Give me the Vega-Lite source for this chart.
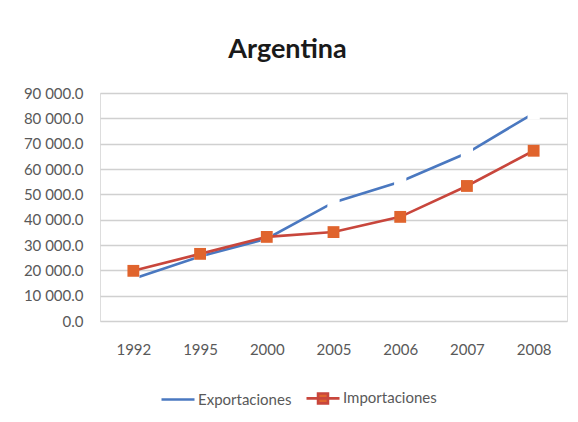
{
  "$schema": "https://vega.github.io/schema/vega-lite/v6.json",
  "width": 467,
  "height": 228,
  "autosize": {"type": "none"},
  "padding": {"left": 100, "top": 93, "right": 11, "bottom": 101},
  "background": "white",
  "title": {
    "text": "Argentina",
    "font": "Lato",
    "fontSize": 27,
    "fontWeight": "bold",
    "color": "#1a1a1a",
    "anchor": "middle",
    "dx": -46,
    "baseline": "alphabetic",
    "offset": 1
  },
  "data": {
    "values": [
      {"anio": "1992", "serie": "Exportaciones", "valor": 16700},
      {"anio": "1995", "serie": "Exportaciones", "valor": 25500},
      {"anio": "2000", "serie": "Exportaciones", "valor": 32500},
      {"anio": "2005", "serie": "Exportaciones", "valor": 46800},
      {"anio": "2006", "serie": "Exportaciones", "valor": 55000},
      {"anio": "2007", "serie": "Exportaciones", "valor": 66300},
      {"anio": "2008", "serie": "Exportaciones", "valor": 82000},
      {"anio": "1992", "serie": "Importaciones", "valor": 19800},
      {"anio": "1995", "serie": "Importaciones", "valor": 26500},
      {"anio": "2000", "serie": "Importaciones", "valor": 33200},
      {"anio": "2005", "serie": "Importaciones", "valor": 35100},
      {"anio": "2006", "serie": "Importaciones", "valor": 41100},
      {"anio": "2007", "serie": "Importaciones", "valor": 53300},
      {"anio": "2008", "serie": "Importaciones", "valor": 67200}
    ]
  },
  "encoding": {
    "x": {
      "field": "anio",
      "type": "ordinal",
      "sort": null,
      "scale": {"type": "point", "padding": 0.5},
      "axis": {
        "title": null,
        "labelAngle": 0,
        "domain": false,
        "ticks": false,
        "labelFont": "Lato",
        "labelFontSize": 15,
        "labelColor": "#595959",
        "labelPadding": 21
      }
    },
    "y": {
      "field": "valor",
      "type": "quantitative",
      "scale": {"domain": [0, 90000], "nice": false},
      "axis": {
        "title": null,
        "values": [0, 10000, 20000, 30000, 40000, 50000, 60000, 70000, 80000, 90000],
        "labelExpr": "replace(format(datum.value, ',.1f'), ',', ' ')",
        "domain": false,
        "ticks": false,
        "grid": true,
        "gridColor": "#d0d0d0",
        "gridWidth": 1.6,
        "labelFont": "Lato",
        "labelFontSize": 15,
        "labelColor": "#595959",
        "labelPadding": 17
      }
    }
  },
  "layer": [
    {
      "transform": [{"filter": "datum.serie === 'Exportaciones'"}],
      "mark": {"type": "line", "strokeWidth": 2.6},
      "encoding": {
        "color": {
          "field": "serie",
          "type": "nominal",
          "scale": {"domain": ["Exportaciones", "Importaciones"], "range": ["#4a78c0", "#c8463c"]},
          "legend": {
            "title": null,
            "orient": "none",
            "direction": "horizontal",
            "legendX": 60,
            "legendY": 287,
            "labelFont": "Lato",
            "labelFontSize": 15,
            "labelColor": "#595959",
            "labelOffset": 2,
            "columnPadding": 9,
            "symbolSize": 1089,
            "symbolStrokeWidth": 2.6,
            "encode": {
              "symbols": {
                "update": {
                  "shape": {"signal": "datum.value === 'Importaciones' ? 'M-1,0H1M-0.3,-0.3H0.3V0.3H-0.3Z' : 'M-1,0H1'"},
                  "fill": {"signal": "datum.value === 'Importaciones' ? '#e0642d' : 'transparent'"},
                  "stroke": {"signal": "datum.value === 'Importaciones' ? '#c8463c' : '#4a78c0'"},
                  "strokeWidth": {"value": 2.6},
                  "opacity": {"value": 1}
                }
              }
            }
          }
        }
      }
    },
    {
      "transform": [{"filter": "datum.serie === 'Exportaciones'"}],
      "mark": {"type": "point", "shape": "square", "filled": true, "color": "white", "opacity": 1, "size": 150}
    },
    {
      "transform": [{"filter": "datum.serie === 'Importaciones'"}],
      "mark": {"type": "line", "strokeWidth": 2.6},
      "encoding": {
        "color": {"field": "serie", "type": "nominal"}
      }
    },
    {
      "transform": [{"filter": "datum.serie === 'Importaciones'"}],
      "mark": {"type": "point", "shape": "square", "filled": true, "color": "#e0642d", "opacity": 1, "size": 140}
    }
  ]
}
